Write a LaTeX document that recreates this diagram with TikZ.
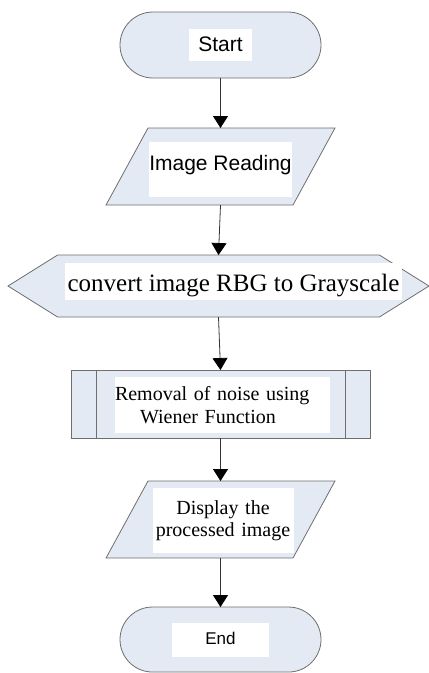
\documentclass[tikz,border=0pt]{standalone}
\usepackage{fontspec}
\setmainfont{Liberation Serif}
\setsansfont{Liberation Sans}
\usetikzlibrary{positioning,shapes.geometric,shapes.misc,shapes.symbols,arrows.meta}
\definecolor{boxfill}{HTML}{E4EAF4}
\definecolor{boxline}{HTML}{6E6E6E}

\begin{document}
\begin{tikzpicture}[x=1pt,y=-1pt,
block/.style={
  draw=boxline,
  fill=boxfill,
  line width=0.8pt,
  outer sep=0pt,
  inner sep=0pt},
terminal/.style={
  block,
  rounded rectangle,
  minimum width=201pt,
  minimum height=66pt},
io/.style={
  block,
  trapezium,
  trapezium left angle=61.4,
  trapezium right angle=118.6,
  inner xsep=72.5pt,
  inner ysep=38.5pt},
prep/.style={
  block,
  signal,
  signal to=west and east,
  signal pointer angle=64,
  minimum width=421pt,
  minimum height=62pt},
process/.style={
  block,
  rectangle,
  minimum width=299pt,
  minimum height=68pt},
lbl/.style={
  fill=white,
  inner sep=0pt,
  align=center},
flow/.style={
  draw=black!80,
  line width=0.8pt,
  -{Triangle[length=12pt,width=15pt,color=black]}},
]

\useasboundingbox (0,0) rectangle (429,673);

\node[terminal] (start) at (220.5,45) {};
\node[lbl,font={\sffamily\fontsize{21pt}{24pt}\selectfont},
  minimum width=63pt,text height=22pt,text depth=10pt] (startlbl) at (start) {Start};

\node[io,below=50pt of start] (read) {};
\node[lbl,font={\sffamily\fontsize{21pt}{24pt}\selectfont},
  minimum width=142pt,text height=28pt,text depth=27pt] (readlbl)
  at ([yshift=-3pt]read.center) {Image Reading};

\node[prep,below=50pt of read,xshift=-2pt] (gray) {};
\node[lbl,font={\fontsize{25pt}{28pt}\selectfont},
  minimum width=337pt,text height=28pt,text depth=9pt] (graylbl)
  at ([xshift=15pt,yshift=4.5pt]gray.center) {convert image RBG to Grayscale};

\node[process,below=53pt of gray,xshift=2pt] (wiener) {};
\draw[boxline,line width=0.8pt] ([xshift=25pt]wiener.north west) -- ([xshift=25pt]wiener.south west);
\draw[boxline,line width=0.8pt] ([xshift=-25pt]wiener.north east) -- ([xshift=-25pt]wiener.south east);
\node[lbl,font={\fontsize{20pt}{23pt}\selectfont},align=left,
  text width=215pt,minimum height=56pt] (wienerlbl)
  at ([xshift=2pt,yshift=-1pt]wiener.center)
  {Removal of noise using\\\hspace*{25pt}Wiener Function};

\node[io,below=43pt of wiener] (disp) {};
\node[lbl,font={\fontsize{20pt}{22pt}\selectfont},
  text width=141pt,minimum height=65pt] (displbl)
  at ([xshift=2.5pt,yshift=-1pt]disp.center) {Display the\\processed image};

\node[terminal,below=49pt of disp,minimum height=65pt] (end) {};
\node[lbl,font={\sffamily\fontsize{17pt}{20pt}\selectfont},
  minimum width=97pt,text height=22pt,text depth=12pt] (endlbl) at (end) {End};

\draw[flow] (start.south) -- (read.north);
\draw[flow] (read.south) -- (gray.north);
\draw[flow] (gray.south) -- (wiener.north);
\draw[flow] (wiener.south) -- (disp.north);
\draw[flow] (disp.south) -- (end.north);

\end{tikzpicture}
\end{document}
